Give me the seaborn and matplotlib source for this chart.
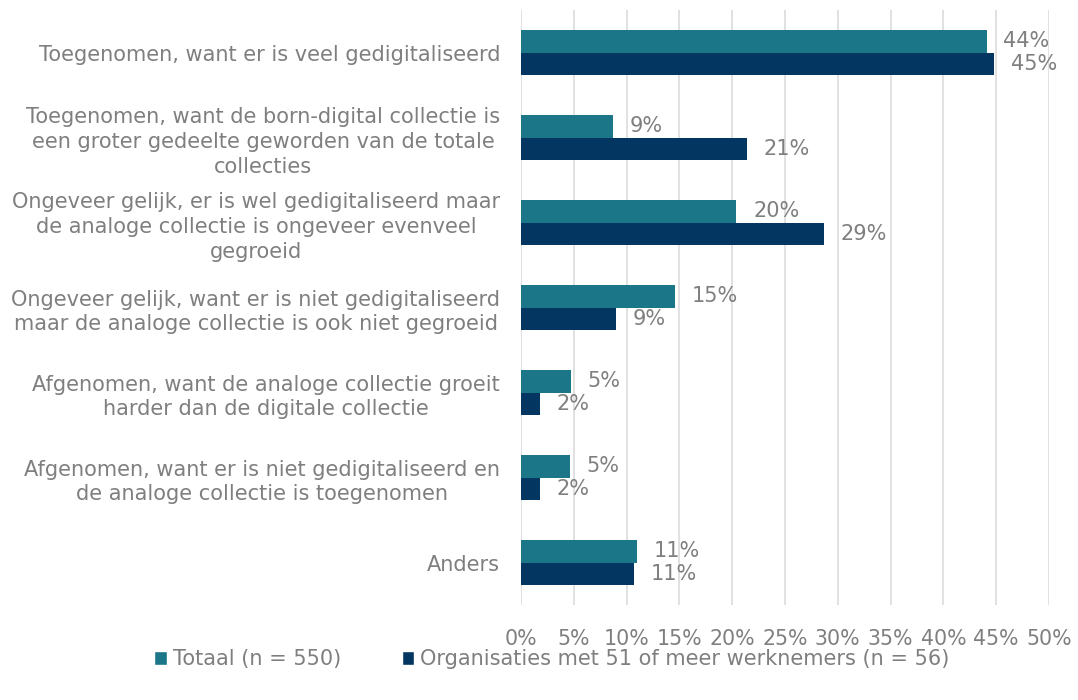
import matplotlib
matplotlib.use("Agg")
from matplotlib import pyplot as plt
from matplotlib.patches import Patch
import pandas as pd
import seaborn as sns

# categories (top to bottom as in the chart)
categories = [
    "Toegenomen, want er is veel gedigitaliseerd",
    "Toegenomen, want de born-digital collectie is\neen groter gedeelte geworden van de totale\ncollecties",
    "Ongeveer gelijk, er is wel gedigitaliseerd maar\nde analoge collectie is ongeveer evenveel\ngegroeid",
    "Ongeveer gelijk, want er is niet gedigitaliseerd\nmaar de analoge collectie is ook niet gegroeid",
    "Afgenomen, want de analoge collectie groeit\nharder dan de digitale collectie",
    "Afgenomen, want er is niet gedigitaliseerd en\nde analoge collectie is toegenomen",
    "Anders",
]
series_names = ["Totaal (n = 550)", "Organisaties met 51 of meer werknemers (n = 56)"]
totaal = [44.1, 8.7, 20.4, 14.6, 4.7, 4.6, 11.0]
organisaties = [44.8, 21.4, 28.7, 9.0, 1.8, 1.8, 10.7]
x_ticks = [0, 5, 10, 15, 20, 25, 30, 35, 40, 45, 50]

colors = ["#1b7688", "#033660"]
grey = "#7f7f7f"

df = pd.DataFrame({
    "categorie": categories * 2,
    "waarde": totaal + organisaties,
    "groep": [series_names[0]] * len(categories) + [series_names[1]] * len(categories),
})

sns.set_style("white")
plt.rcParams["font.family"] = ["DejaVu Sans"]

fig = plt.figure(figsize=(10.78, 7.0), dpi=100)
ax = fig.add_axes([0.4833, 0.1357, 0.4898, 0.85])

sns.barplot(data=df, y="categorie", x="waarde", hue="groep", orient="h",
            palette=colors, width=0.52, ax=ax, legend=False, saturation=1,
            linewidth=0)

for cont in ax.containers:
    labels = ax.bar_label(cont, fmt="{:.0f}%", padding=12, color=grey, fontsize=15)

ax.set_xlim(0, 50)
ax.set_xticks(x_ticks)
ax.set_xticklabels([f"{t}%" for t in x_ticks])
ax.set_xlabel("")
ax.set_ylabel("")
ax.set_ylim(len(categories) - 0.5, -0.5)
ax.grid(axis="x", color="#dedede", linewidth=1.3)
ax.set_axisbelow(True)
for s in ax.spines.values():
    s.set_visible(False)
ax.tick_params(axis="x", length=0, pad=17, labelsize=14.8, labelcolor=grey)
ax.tick_params(axis="y", length=0, pad=15, labelsize=15, labelcolor=grey)
for lab in ax.get_yticklabels():
    lab.set_multialignment("center")
    lab.set_linespacing(1.3)

handles = [Patch(facecolor=c) for c in colors]
fig.legend(handles, series_names, loc="center", bbox_to_anchor=(0.512, 0.058),
           ncol=2, frameon=False, fontsize=15, labelcolor=grey,
           handlelength=0.6, handleheight=0.6, handletextpad=0.3,
           columnspacing=2.9)

plt.savefig("out.png", dpi=100)
